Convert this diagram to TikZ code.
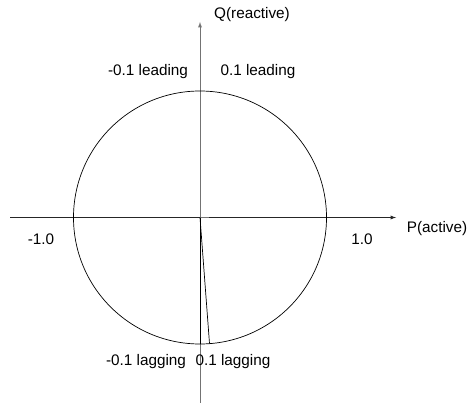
\documentclass[tikz,border=0pt]{standalone}
\usepackage{fontspec}
\setmainfont{Liberation Sans}
\usetikzlibrary{calc}

\begin{document}
\begin{tikzpicture}[
				x=1pt,
				y=-1pt,
				line cap=butt,
				line join=round,
				axis/.style={line width=0.9pt, -latex},
				lbl/.style={inner sep=0pt, font=\fontsize{15.3}{17}\selectfont},
				thin line/.style={line width=0.7pt}
				]
				\useasboundingbox (0,0) rectangle (470,403);
				
				% Axes
				\coordinate (O) at (200,217.5);
				\coordinate (Pw) at (10,217.5);
				\coordinate (Pe) at (396,217.5);
				\coordinate (Qs) at (200,403);
				\coordinate (Qn) at (200,22);
				
				\draw[axis, black!85] (Pw) -- (Pe);
				\draw[axis, black!55] (Qs) -- (Qn);
				
				% Unit circle
				\draw[thin line] (O) circle[radius=126.5pt];
				
				% Lagging vectors
				\coordinate (Lg) at (200,344);
				\coordinate (Lh) at (209.5,343.5);
				\draw[thin line, black!55] (O) -- ($(O)+(9,0)$);
				\draw[thin line] (O) -- (Lg);
				\draw[thin line] (O) -- (Lh);
				
				% Labels
				\node[lbl] (q) at (252,15) {Q(reactive)};
				\node[lbl] (p) at (437,229) {P(active)};
				\node[lbl] (lm) at (41,239) {-1.0};
				\node[lbl] (lp) at (362,239) {1.0};
				\node[lbl] (ldm) at (148,72) {-0.1 leading};
				\node[lbl] (ldp) at (258,72) {0.1 leading};
				\node[lbl] (lgm) at (146,362) {-0.1 lagging};
				\node[lbl] (lgp) at (233,362) {0.1 lagging};
			\end{tikzpicture}
\end{document}
